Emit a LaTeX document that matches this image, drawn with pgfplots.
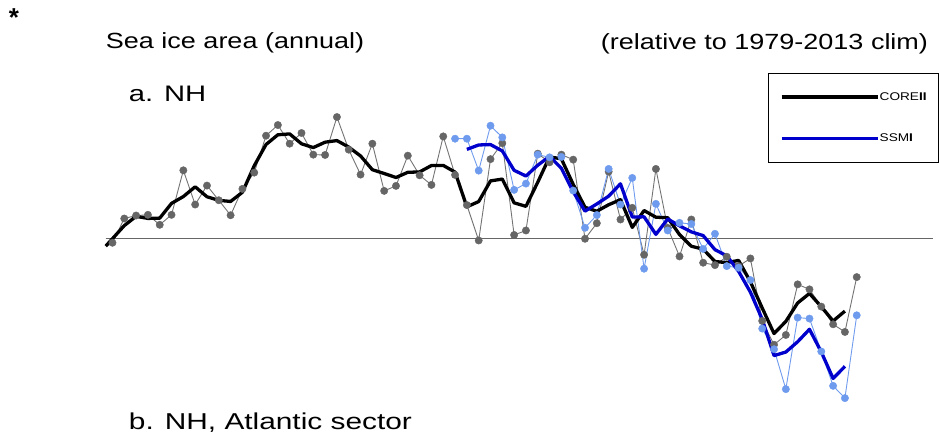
\documentclass[border=0pt]{standalone}
\usepackage{pgfplots}
\pgfplotsset{compat=1.18}
\usepackage{pgfplotstable}
\usepackage{fontspec}
\setmainfont{Liberation Sans}
\definecolor{dotgray}{RGB}{102,102,102}
\definecolor{linegray}{RGB}{115,115,115}
\definecolor{ltblue}{RGB}{110,155,238}
\definecolor{dkblue}{RGB}{0,0,204}
\newcommand\st[2]{\scalebox{#1}[1]{#2}}

% annual CORE-II (gray dots)
\pgfplotstableread{
year val
1950 -4.3
1951 20
1952 23
1953 23.7
1954 13.7
1955 23.7
1956 68.3
1957 34
1958 53
1959 38.3
1960 23.3
1961 49.7
1962 66
1963 103
1964 113.7
1965 95
1966 105.7
1967 84
1968 83.7
1969 121.7
1970 89
1971 64
1972 95
1973 47.7
1974 52.7
1975 83
1976 63.3
1977 53.7
1978 102.3
1979 63.7
1980 33.5
1981 -2
1982 79.5
1983 95.5
1984 3.5
1985 8
1986 85
1987 76.3
1988 84
1989 79
1990 -0.3
1991 15.3
1992 67
1993 19
1994 30.7
1995 -16.3
1996 69.7
1997 10.6
1998 -18
1999 19
2000 -24.3
2001 -26.7
2002 -18.3
2003 -27.7
2004 -20
2005 -82.6
2006 -106.5
2007 -96.7
2008 -46
2009 -51
2010 -68.3
2011 -86
2012 -93.7
2013 -38.7
}\coreann

% annual SSMI (light blue dots)
\pgfplotstableread{
year val
1979 100
1980 100
1981 68
1982 113
1983 101.3
1984 48.7
1985 55
1986 84
1987 81.3
1988 81.7
1989 48
1990 10.7
1991 23.5
1992 69.7
1993 34
1994 60.7
1995 -30.3
1996 34.7
1997 8
1998 15.7
1999 14.5
2000 -10.5
2001 4.7
2002 -27.7
2003 -29.3
2004 -41.7
2005 -90.3
2006 -111
2007 -151
2008 -79.3
2009 -80.3
2010 -113.3
2011 -147.7
2012 -160
2013 -77
}\ssmiann

% smoothed CORE-II (thick black)
\pgfplotstableread{
year val
1949.43 -7.7
1951 12.9
1952 22.2
1953 20.1
1954 20.4
1955 35.2
1956 42
1957 51.8
1958 41.8
1959 38.2
1960 37.1
1961 46.3
1962 72.9
1963 94.2
1964 103.9
1965 104.8
1966 94.9
1967 91.1
1968 96.5
1969 98.1
1970 91.6
1971 82.7
1972 68.9
1973 65.1
1974 61.1
1975 66.3
1976 66.7
1977 73.1
1978 73.2
1979 66.5
1980 31.7
1981 37
1982 57.7
1983 59.5
1984 35.7
1985 32.2
1986 56.4
1987 81.8
1988 79.8
1989 54.2
1990 31.3
1991 27.3
1992 33.8
1993 38.9
1994 11.1
1995 28
1996 21.3
1997 20.8
1998 3.9
1999 -7.8
2000 -10.7
2001 -23.1
2002 -24.2
2003 -22
2004 -43.4
2005 -69.7
2006 -95.3
2007 -83.1
2008 -64.6
2009 -55.1
2010 -68.4
2011 -82.7
2012 -72.8
}\coresm

% smoothed SSMI (thick blue)
\pgfplotstableread{
year val
1980 89.3
1981 93.7
1982 94.1
1983 87.7
1984 68.3
1985 62.6
1986 73.4
1987 82.3
1988 70.3
1989 46.8
1990 27.4
1991 34.6
1992 42.4
1993 54.8
1994 21.5
1995 21.7
1996 4.1
1997 19.5
1998 12.7
1999 6.6
2000 2.9
2001 -11.2
2002 -17.4
2003 -32.9
2004 -53.8
2005 -81
2006 -117.4
2007 -113.8
2008 -103.5
2009 -91
2010 -113.8
2011 -140.3
2012 -128.2
}\ssmism

\begin{document}
\begin{tikzpicture}
\begin{axis}[
  width=939pt, height=441pt, scale only axis,
  xmin=1940.48, xmax=2019.79, ymin=-202, ymax=239,
  axis lines=none, ticks=none, clip=false,
  legend cell align=left,
  legend style={at={(0.81927,0.83379)}, anchor=north west,
    draw=black, line width=0.8pt, fill=white,
    inner xsep=12pt, inner ysep=19pt, row sep=32pt, column sep=0pt,
    nodes={inner sep=0pt},
    font=\fontsize{11.2}{13}\selectfont},
  legend image code/.code={\draw[#1] (0pt,0pt) -- (96.6pt,0pt);},
]
% zero line
\addplot[dotgray, line width=1.3pt, forget plot] coordinates {(1949.43,0) (2019.45,0)};
% annual series
\addplot[linegray, line width=0.9pt, mark=*, mark size=3.7pt,
  mark options={fill=dotgray, draw=dotgray, line width=0.4pt, solid}, forget plot] table[x=year,y=val] {\coreann};
\addplot[ltblue, line width=0.9pt, mark=*, mark size=3.7pt,
  mark options={fill=ltblue, draw=ltblue, line width=0.4pt, solid}, forget plot] table[x=year,y=val] {\ssmiann};
% smoothed series
\addplot[black, line width=3.3pt, line join=round] table[x=year,y=val] {\coresm};
\addlegendentry{\st{1.22}{CORE\textbf{II}}}
\addplot[dkblue, line width=3.3pt, line join=round] table[x=year,y=val] {\ssmism};
\addlegendentry{\st{1.22}{SSM\textbf{I}}}

% texts
\node[anchor=north, inner sep=0pt, font=\fontsize{26}{26}\selectfont\bfseries] at (rel axis cs:0.01491,0.98186) {*};
\node[anchor=base west, inner sep=0pt, font=\fontsize{22}{26}\selectfont] at (rel axis cs:0.11289,0.88889) {\st{1.23}{Sea ice area (annual)}};
\node[anchor=base west, inner sep=0pt, font=\fontsize{22}{26}\selectfont] at (rel axis cs:0.64111,0.88662) {\st{1.23}{(relative to 1979-2013 clim)}};
\node[anchor=base west, inner sep=0pt, font=\fontsize{22.5}{26}\selectfont] at (rel axis cs:0.13738,0.76871) {\st{1.3}{a. NH}};
\node[anchor=base west, inner sep=0pt, font=\fontsize{23}{26}\selectfont] at (rel axis cs:0.13738,0.02494) {\st{1.3}{b. NH, Atlantic sector}};
\path (rel axis cs:0,0) rectangle (rel axis cs:1,1);
\end{axis}
\end{tikzpicture}
\end{document}
